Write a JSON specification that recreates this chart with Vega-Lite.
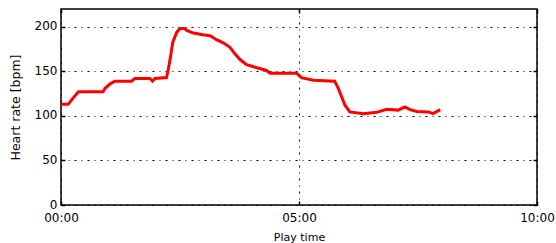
{
  "$schema": "https://vega.github.io/schema/vega-lite/v6.json",
  "autosize": {"type": "none"},
  "width": 476,
  "height": 196,
  "padding": {"left": 61, "top": 9, "right": 19, "bottom": 38},
  "background": "white",
  "config": {
    "view": {"stroke": "black", "strokeWidth": 1.5},
    "axis": {
      "labelFont": "DejaVu Sans",
      "labelFontSize": 12,
      "labelColor": "black",
      "titleColor": "black",
      "titleFontWeight": "normal",
      "domain": false,
      "ticks": true,
      "tickSize": -4,
      "tickColor": "black",
      "tickWidth": 1.5,
      "gridColor": "black",
      "gridOpacity": 1,
      "gridWidth": 1,
      "gridDash": [2, 5, 1, 5]
    }
  },
  "data": {
    "values": [
      {"t": 0, "hr": 113},
      {"t": 9, "hr": 113},
      {"t": 13.5, "hr": 118},
      {"t": 18, "hr": 123},
      {"t": 22, "hr": 127},
      {"t": 53, "hr": 127},
      {"t": 55.5, "hr": 131},
      {"t": 62, "hr": 136},
      {"t": 68, "hr": 139},
      {"t": 89, "hr": 139},
      {"t": 93, "hr": 142},
      {"t": 112, "hr": 142},
      {"t": 115.5, "hr": 139},
      {"t": 118.5, "hr": 142},
      {"t": 133, "hr": 143},
      {"t": 135, "hr": 151},
      {"t": 138, "hr": 166},
      {"t": 141, "hr": 183},
      {"t": 146, "hr": 194},
      {"t": 150, "hr": 198},
      {"t": 156, "hr": 198},
      {"t": 158.5, "hr": 196},
      {"t": 167, "hr": 193},
      {"t": 179, "hr": 191},
      {"t": 188, "hr": 190},
      {"t": 196, "hr": 185.5},
      {"t": 204.5, "hr": 182},
      {"t": 213, "hr": 177},
      {"t": 219, "hr": 170},
      {"t": 226, "hr": 163},
      {"t": 234, "hr": 157.5},
      {"t": 247, "hr": 154},
      {"t": 259, "hr": 151},
      {"t": 263.5, "hr": 148},
      {"t": 297, "hr": 148},
      {"t": 303, "hr": 143},
      {"t": 318, "hr": 140},
      {"t": 345, "hr": 139},
      {"t": 349.5, "hr": 131},
      {"t": 354, "hr": 121},
      {"t": 358, "hr": 112},
      {"t": 364, "hr": 104.5},
      {"t": 381, "hr": 102.5},
      {"t": 398, "hr": 104},
      {"t": 410.5, "hr": 107.5},
      {"t": 425, "hr": 106.5},
      {"t": 433.5, "hr": 110},
      {"t": 440, "hr": 107},
      {"t": 448.5, "hr": 105},
      {"t": 463, "hr": 104.5},
      {"t": 469, "hr": 102.5},
      {"t": 478, "hr": 107}
    ]
  },
  "layer": [
    {
      "mark": {"type": "line", "opacity": 0},
      "encoding": {
        "x": {
          "field": "t",
          "type": "quantitative",
          "scale": {"domain": [0, 600], "nice": false},
          "axis": {"orient": "top", "values": [0, 300, 600], "labels": false, "grid": false, "title": null}
        },
        "y": {
          "field": "hr",
          "type": "quantitative",
          "scale": {"domain": [0, 220], "nice": false},
          "axis": {"orient": "right", "values": [0, 50, 100, 150, 200], "labels": false, "grid": false, "title": null}
        }
      }
    },
    {
      "mark": {"type": "line", "color": "#ff0000", "strokeWidth": 3, "clip": true},
      "encoding": {
        "x": {
          "field": "t",
          "type": "quantitative",
          "scale": {"domain": [0, 600], "nice": false},
          "axis": {
            "orient": "bottom",
            "grid": true,
            "values": [0, 300, 600],
            "labelExpr": "(floor(datum.value/60) < 10 ? '0' : '') + floor(datum.value/60) + ':00'",
            "labelPadding": 11,
            "labelFlush": false,
            "title": "Play time",
            "titleFont": "DejaVu Sans",
            "titleFontSize": 11,
            "titleBaseline": "middle",
            "titleY": 32
          }
        },
        "y": {
          "field": "hr",
          "type": "quantitative",
          "scale": {"domain": [0, 220], "nice": false},
          "axis": {
            "orient": "left",
            "grid": true,
            "values": [0, 50, 100, 150, 200],
            "labelPadding": 8,
            "labelBaseline": "middle",
            "labelOffset": -1,
            "title": "Heart rate [bpm]",
            "titleFont": "DejaVu Sans",
            "titleFontSize": 12.5,
            "titleBaseline": "middle",
            "titleX": -46,
            "titleY": 98
          }
        }
      }
    }
  ],
  "resolve": {"axis": {"x": "independent", "y": "independent"}}
}
